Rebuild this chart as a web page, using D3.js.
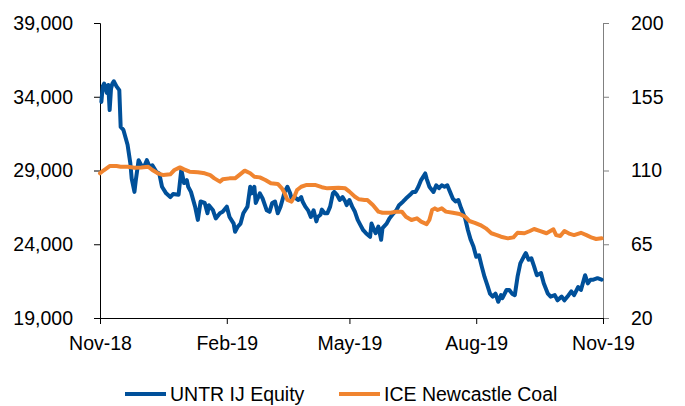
<!DOCTYPE html>
<html>
<head>
<meta charset="utf-8">
<script src="https://cdn.jsdelivr.net/npm/d3@7"></script>
<style>
    body { margin: 0; background: #fff; }
    svg { font-family: "Liberation Sans", Arial, sans-serif; }
</style>
</head>
<body>
<div id="chart"></div>
<script>
const seriesNames = ['UNTR IJ Equity', 'ICE Newcastle Coal'];

const untrDates = [
    '2018-11-02', '2018-11-03', '2018-11-04', '2018-11-06', '2018-11-07', '2018-11-08', '2018-11-09', '2018-11-10',
    '2018-11-11', '2018-11-13', '2018-11-15', '2018-11-16', '2018-11-18', '2018-11-21', '2018-11-23', '2018-11-24',
    '2018-11-26', '2018-11-27', '2018-11-29', '2018-12-01', '2018-12-03', '2018-12-05', '2018-12-07', '2018-12-09',
    '2018-12-12', '2018-12-14', '2018-12-16', '2018-12-19', '2018-12-22', '2018-12-24', '2018-12-28', '2018-12-30',
    '2019-01-01', '2019-01-03', '2019-01-04', '2019-01-06', '2019-01-09', '2019-01-11', '2019-01-13', '2019-01-16',
    '2019-01-18', '2019-01-19', '2019-01-22', '2019-01-24', '2019-01-27', '2019-01-29', '2019-02-01', '2019-02-03',
    '2019-02-06', '2019-02-07', '2019-02-09', '2019-02-11', '2019-02-13', '2019-02-16', '2019-02-18', '2019-02-19',
    '2019-02-21', '2019-02-22', '2019-02-25', '2019-02-27', '2019-03-02', '2019-03-04', '2019-03-06', '2019-03-08',
    '2019-03-10', '2019-03-12', '2019-03-14', '2019-03-15', '2019-03-17', '2019-03-19', '2019-03-20', '2019-03-22',
    '2019-03-25', '2019-03-27', '2019-03-28', '2019-03-30', '2019-04-01', '2019-04-03', '2019-04-05', '2019-04-07',
    '2019-04-08', '2019-04-10', '2019-04-11', '2019-04-13', '2019-04-15', '2019-04-17', '2019-04-19', '2019-04-20',
    '2019-04-22', '2019-04-24', '2019-04-26', '2019-04-28', '2019-04-29', '2019-05-01', '2019-05-03', '2019-05-05',
    '2019-05-07', '2019-05-09', '2019-05-11', '2019-05-13', '2019-05-16', '2019-05-17', '2019-05-19', '2019-05-20',
    '2019-05-22', '2019-05-24', '2019-05-25', '2019-05-28', '2019-05-30', '2019-06-02', '2019-06-04', '2019-06-06',
    '2019-06-09', '2019-06-11', '2019-06-14', '2019-06-16', '2019-06-18', '2019-06-20', '2019-06-22', '2019-06-25',
    '2019-06-26', '2019-06-28', '2019-07-01', '2019-07-03', '2019-07-05', '2019-07-07', '2019-07-09', '2019-07-11',
    '2019-07-13', '2019-07-15', '2019-07-17', '2019-07-19', '2019-07-21', '2019-07-24', '2019-07-26', '2019-07-28',
    '2019-07-30', '2019-08-01', '2019-08-03', '2019-08-05', '2019-08-07', '2019-08-09', '2019-08-11', '2019-08-13',
    '2019-08-15', '2019-08-17', '2019-08-19', '2019-08-20', '2019-08-23', '2019-08-25', '2019-08-27', '2019-08-29',
    '2019-08-31', '2019-09-02', '2019-09-05', '2019-09-06', '2019-09-08', '2019-09-10', '2019-09-12', '2019-09-14',
    '2019-09-17', '2019-09-19', '2019-09-22', '2019-09-24', '2019-09-27', '2019-09-29', '2019-10-02', '2019-10-04',
    '2019-10-07', '2019-10-09', '2019-10-11', '2019-10-14', '2019-10-16', '2019-10-19', '2019-10-21', '2019-10-23',
    '2019-10-25', '2019-10-28', '2019-10-31'
];
const untrValues = [
    33650, 34700, 34900, 34250, 34800, 33100, 34550, 34900,
    35050, 34700, 34450, 31950, 31750, 30750, 29500, 28450,
    27550, 28350, 29700, 29350, 29250, 29700, 29250, 29350,
    28900, 28800, 27900, 27450, 27200, 27400, 27350, 29050,
    28150, 28350, 27900, 27550, 26550, 25650, 26900, 26800,
    26100, 26650, 26300, 25750, 26100, 26200, 26550, 25850,
    25400, 24850, 25200, 25400, 26100, 26550, 27900, 27450,
    27900, 26800, 27450, 27100, 26300, 26200, 26800, 26900,
    26100, 26550, 27200, 27550, 27900, 27450, 27100, 27200,
    27000, 27200, 26900, 26550, 26300, 25850, 26300, 25550,
    25850, 26000, 26350, 26100, 26100, 26550, 27450, 27550,
    27350, 27000, 27200, 26900, 26650, 27000, 26550, 26200,
    25650, 25300, 24950, 24750, 24500, 25400, 24950, 24750,
    25200, 24300, 25100, 25400, 25750, 26100, 26300, 26650,
    26900, 27100, 27350, 27550, 27550, 27900, 28350, 28800,
    28450, 27900, 27550, 28000, 27800, 28000, 27900, 28000,
    27550, 27100, 26900, 27000, 26450, 25750, 24950, 24300,
    23850, 23150, 23250, 22500, 21800, 21250, 20650, 20450,
    20650, 20100, 20550, 20350, 20900, 20900, 20650, 20550,
    21800, 22700, 23250, 23400, 22950, 23050, 22500, 21900,
    22050, 21350, 20650, 20450, 20550, 20200, 20450, 20200,
    20550, 20800, 20550, 21100, 20900, 21900, 21350, 21600,
    21600, 21700, 21600
];

const coalDates = [
    '2018-11-01', '2018-11-04', '2018-11-08', '2018-11-13', '2018-11-16', '2018-11-21', '2018-11-26', '2018-12-01',
    '2018-12-06', '2018-12-09', '2018-12-13', '2018-12-17', '2018-12-22', '2018-12-25', '2018-12-29', '2019-01-01',
    '2019-01-05', '2019-01-11', '2019-01-16', '2019-01-20', '2019-01-23', '2019-01-27', '2019-01-29', '2019-02-03',
    '2019-02-07', '2019-02-10', '2019-02-14', '2019-02-18', '2019-02-21', '2019-02-25', '2019-03-01', '2019-03-05',
    '2019-03-10', '2019-03-13', '2019-03-15', '2019-03-17', '2019-03-20', '2019-03-22', '2019-03-24', '2019-03-27',
    '2019-03-31', '2019-04-06', '2019-04-11', '2019-04-15', '2019-04-23', '2019-04-28', '2019-05-01', '2019-05-05',
    '2019-05-08', '2019-05-12', '2019-05-14', '2019-05-18', '2019-05-22', '2019-05-25', '2019-05-31', '2019-06-04',
    '2019-06-08', '2019-06-11', '2019-06-15', '2019-06-19', '2019-06-22', '2019-06-26', '2019-06-28', '2019-06-30',
    '2019-07-02', '2019-07-04', '2019-07-07', '2019-07-10', '2019-07-15', '2019-07-20', '2019-07-24', '2019-07-27',
    '2019-07-31', '2019-08-04', '2019-08-08', '2019-08-12', '2019-08-16', '2019-08-19', '2019-08-24', '2019-08-28',
    '2019-08-31', '2019-09-05', '2019-09-09', '2019-09-12', '2019-09-16', '2019-09-21', '2019-09-26', '2019-09-28',
    '2019-10-01', '2019-10-04', '2019-10-08', '2019-10-11', '2019-10-16', '2019-10-20', '2019-10-24', '2019-10-27',
    '2019-10-31'
];
const coalValues = [
    108.3, 110.3, 112.7, 112.7, 112.3, 112.3, 111.7, 111.9,
    112.3, 110.3, 108.3, 107.2, 107.7, 110.3, 111.9, 110.7,
    109.3, 108.9, 108.3, 107.2, 105.2, 103.2, 104.6, 105.2,
    105.2, 107.2, 109.9, 108.3, 106.2, 105.8, 104.2, 102.2,
    101.8, 99.1, 96.1, 92.0, 91.0, 94.0, 98.1, 100.1,
    101.2, 101.2, 99.8, 99.1, 99.5, 99.1, 97.1, 94.0,
    92.4, 92.0, 92.0, 88.9, 84.9, 84.2, 84.2, 84.9,
    84.9, 81.8, 79.8, 80.8, 78.8, 77.3, 79.8, 85.9,
    86.9, 85.9, 86.9, 84.9, 84.2, 83.5, 81.8, 79.2,
    78.1, 76.7, 74.7, 71.7, 70.6, 69.6, 68.6, 69.2,
    72.0, 71.7, 73.1, 74.3, 73.1, 71.7, 74.1, 70.6,
    70.0, 73.1, 71.3, 70.6, 72.0, 70.6, 69.0, 68.2,
    68.6
];

const xDomain = ['2018-11-01', '2019-11-01'];
const xTicks = ['2018-11-01', '2019-02-01', '2019-05-01', '2019-08-01', '2019-11-01'];
const leftTicks = [19000, 24000, 29000, 34000, 39000];
const rightTicks = [20, 65, 110, 155, 200];

const colors = ['#00509A', '#F0842F'];

function getDimensions() {
    const margins = { top: 23, right: 82, bottom: 88, left: 100 };
    return {
        margins,
        width: 685 - margins.left - margins.right,
        height: 406 - margins.top - margins.bottom
    };
}

function drawChart() {
    const parse = d3.timeParse('%Y-%m-%d');
    const dim = getDimensions();
    const fontSize = 19.5;

    const svg = d3.select('#chart')
        .append('svg')
        .attr('width', 685)
        .attr('height', 406);

    const chart = svg.append('g')
        .attr('transform', `translate(${dim.margins.left},${dim.margins.top})`);

    //scales
    const x = d3.scaleTime()
        .domain(xDomain.map(parse))
        .range([0, dim.width]);
    const yLeft = d3.scaleLinear()
        .domain([leftTicks[0], leftTicks[leftTicks.length - 1]])
        .range([dim.height, 0]);
    const yRight = d3.scaleLinear()
        .domain([rightTicks[0], rightTicks[rightTicks.length - 1]])
        .range([dim.height, 0]);

    //left axis
    const leftAxis = chart.append('g')
        .call(d3.axisLeft(yLeft)
            .tickValues(leftTicks)
            .tickSize(6)
            .tickPadding(21)
            .tickFormat(d3.format(',')));

    //right axis
    const rightAxis = chart.append('g')
        .attr('transform', `translate(${dim.width},0)`)
        .call(d3.axisRight(yRight)
            .tickValues(rightTicks)
            .tickSize(6)
            .tickPadding(22));

    //bottom axis
    const bottomAxis = chart.append('g')
        .attr('transform', `translate(0,${dim.height})`)
        .call(d3.axisBottom(x)
            .tickValues(xTicks.map(parse))
            .tickSize(6)
            .tickSizeOuter(0)
            .tickPadding(12)
            .tickFormat(d3.timeFormat('%b-%y')));

    [leftAxis, rightAxis, bottomAxis].forEach(axis => {
        axis.selectAll('text')
            .attr('fill', '#000')
            .style('font-size', fontSize + 'px')
            .style('font-family', '"Liberation Sans", Arial, sans-serif');
    });
    leftAxis.selectAll('path, line').attr('stroke', '#000');
    bottomAxis.selectAll('path, line').attr('stroke', '#000');
    rightAxis.selectAll('path, line').attr('stroke', '#808080');

    //lines
    const series = [
        untrDates.map((d, i) => ({ date: parse(d), value: untrValues[i] })),
        coalDates.map((d, i) => ({ date: parse(d), value: coalValues[i] }))
    ];
    const scales = [yLeft, yRight];

    series.forEach((data, i) => {
        const generator = d3.line()
            .x(d => x(d.date))
            .y(d => scales[i](d.value));
        chart.append('path')
            .datum(data)
            .attr('d', generator)
            .attr('fill', 'none')
            .attr('stroke', colors[i])
            .attr('stroke-width', 4)
            .attr('stroke-linejoin', 'round')
            .attr('stroke-linecap', 'round');
    });

    //legend
    const legendY = 394;
    const legendX = [125, 339];
    seriesNames.forEach((name, i) => {
        const item = svg.append('g')
            .attr('transform', `translate(${legendX[i]},${legendY})`);
        item.append('line')
            .attr('x1', 0)
            .attr('x2', 41)
            .attr('stroke', colors[i])
            .attr('stroke-width', 4);
        item.append('text')
            .attr('x', 45)
            .attr('dy', '0.35em')
            .style('font-size', fontSize + 'px')
            .attr('fill', '#000')
            .text(name);
    });
}

drawChart();
</script>
</body>
</html>
